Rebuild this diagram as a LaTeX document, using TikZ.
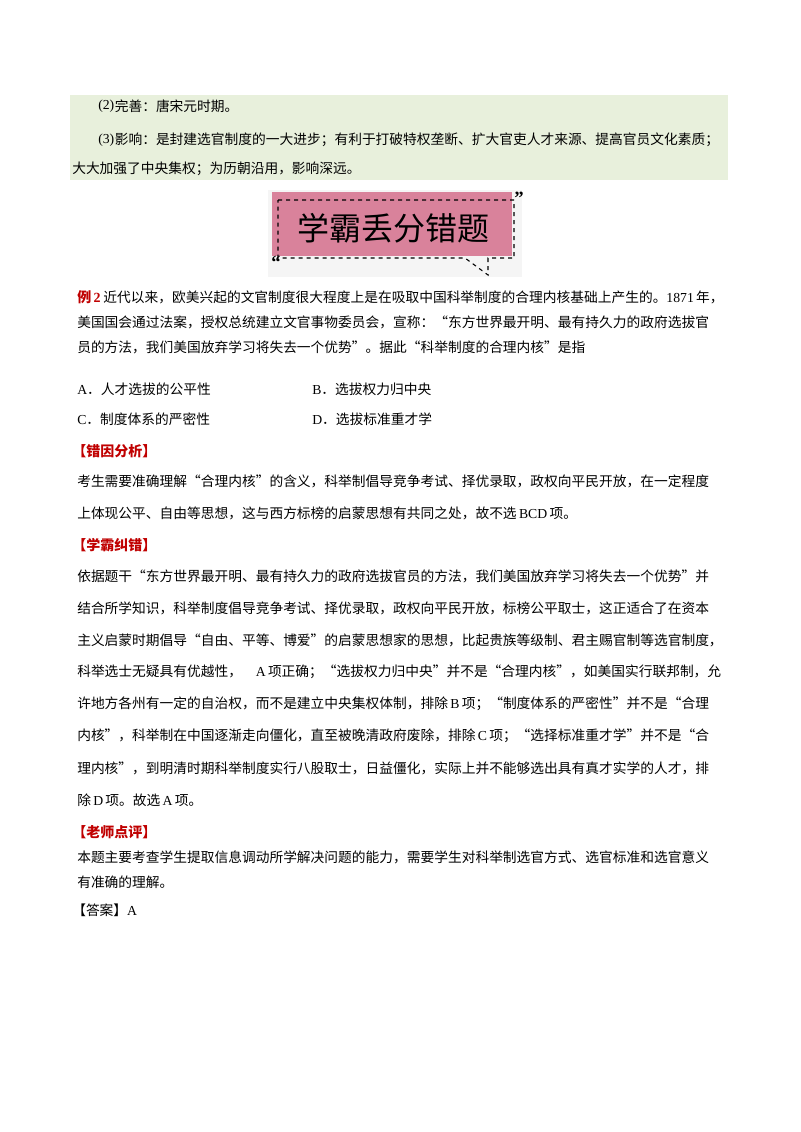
\documentclass[tikz,border=0pt]{standalone}
\usepackage{fontspec}
\setmainfont{Noto Sans CJK SC}
\newfontfamily\ser{Liberation Serif}
\definecolor{boxgreen}{HTML}{E8F0DC}
\definecolor{bpink}{HTML}{D9829B}
\definecolor{hred}{HTML}{C00000}
\begin{document}
\begin{tikzpicture}[x=0.75pt,y=-0.75pt,
  ln/.style={anchor=west,inner sep=0pt,font=\fontsize{10.3pt}{12pt}\selectfont},
  hd/.style={ln,text=hred,font=\fontsize{10.5pt}{12pt}\selectfont\bfseries}]
\path[use as bounding box,fill=white] (0,0) rectangle (800,1132);
\fill[boxgreen] (70,95) rectangle (728,180);
\node[ln] (g1) at (98,106) {\ser(2)}; \node[ln] (g1b) at (g1.east) {完善：唐宋元时期。};
\node[ln] (g2) at (98,140) {\ser(3)}; \node[ln] (g2b) at (g2.east) {影响：是封建选官制度的一大进步；有利于打破特权垄断、扩大官吏人才来源、提高官员文化素质；};
\node[ln] (g3) at (72,169) {大大加强了中央集权；为历朝沿用，影响深远。};
% banner
\fill[black!4] (268,190) rectangle (522,277);
\fill[bpink] (272,192) rectangle (512,256);
\draw[dashed,thick] (278,200) -- (514,200) -- (514,258) -- (488,258) -- (488,275) -- (465,258) -- (278,258) -- cycle;
\node[font=\fontsize{24pt}{26pt}\selectfont] (bt) at (393,228) {学霸丢分错题};
\node[font=\ser\bfseries\fontsize{14pt}{14pt}\selectfont,inner sep=0pt] (q1) at (519,198) {”};
\node[font=\ser\bfseries\fontsize{14pt}{14pt}\selectfont,inner sep=0pt] (q2) at (276,262) {“};
% question
\node[hd] (e2) at (77,297) {例\,\ser2};
\node[ln] (l1) at (e2.east) {\,近代以来，欧美兴起的文官制度很大程度上是在吸取中国科举制度的合理内核基础上产生的。\ser1871\,\normalfont 年，};
\node[ln] (l2) at (77,322) {美国国会通过法案，授权总统建立文官事物委员会，宣称：“东方世界最开明、最有持久力的政府选拔官};
\node[ln] (l3) at (77,347) {员的方法，我们美国放弃学习将失去一个优势”。据此“科举制度的合理内核”是指};
\node[ln] (oa) at (77,389) {{\ser A}．人才选拔的公平性};
\node[ln] (ob) at (312,389) {{\ser B}．选拔权力归中央};
\node[ln] (oc) at (77,419) {{\ser C}．制度体系的严密性};
\node[ln] (od) at (312,419) {{\ser D}．选拔标准重才学};
\node[hd] (h1) at (72,451) {【错因分析】};
\node[ln] (a1) at (77,481) {考生需要准确理解“合理内核”的含义，科举制倡导竞争考试、择优录取，政权向平民开放，在一定程度};
\node[ln] (a2) at (77,513) {上体现公平、自由等思想，这与西方标榜的启蒙思想有共同之处，故不选\,{\ser BCD}\,项。};
\node[hd] (h2) at (72,545) {【学霸纠错】};
\node[ln] (b1) at (77,576) {依据题干“东方世界最开明、最有持久力的政府选拔官员的方法，我们美国放弃学习将失去一个优势”并};
\node[ln] (b2) at (77,608) {结合所学知识，科举制度倡导竞争考试、择优录取，政权向平民开放，标榜公平取士，这正适合了在资本};
\node[ln] (b3) at (77,640) {主义启蒙时期倡导“自由、平等、博爱”的启蒙思想家的思想，比起贵族等级制、君主赐官制等选官制度，};
\node[ln] (b4) at (77,672) {科举选士无疑具有优越性，\quad{\ser A}\,项正确；“选拔权力归中央”并不是“合理内核”，如美国实行联邦制，允};
\node[ln] (b5) at (77,704) {许地方各州有一定的自治权，而不是建立中央集权体制，排除\,{\ser B}\,项；“制度体系的严密性”并不是“合理};
\node[ln] (b6) at (77,736) {内核”，科举制在中国逐渐走向僵化，直至被晚清政府废除，排除\,{\ser C}\,项；“选择标准重才学”并不是“合};
\node[ln] (b7) at (77,768) {理内核”，到明清时期科举制度实行八股取士，日益僵化，实际上并不能够选出具有真才实学的人才，排};
\node[ln] (b8) at (77,800) {除\,{\ser D}\,项。故选\,{\ser A}\,项。};
\node[hd] (h3) at (72,832) {【老师点评】};
\node[ln] (c1) at (77,857) {本题主要考查学生提取信息调动所学解决问题的能力，需要学生对科举制选官方式、选官标准和选官意义};
\node[ln] (c2) at (77,882) {有准确的理解。};
\node[ln] (ans) at (72,910) {【答案】{\ser A}};
\end{tikzpicture}
\end{document}
